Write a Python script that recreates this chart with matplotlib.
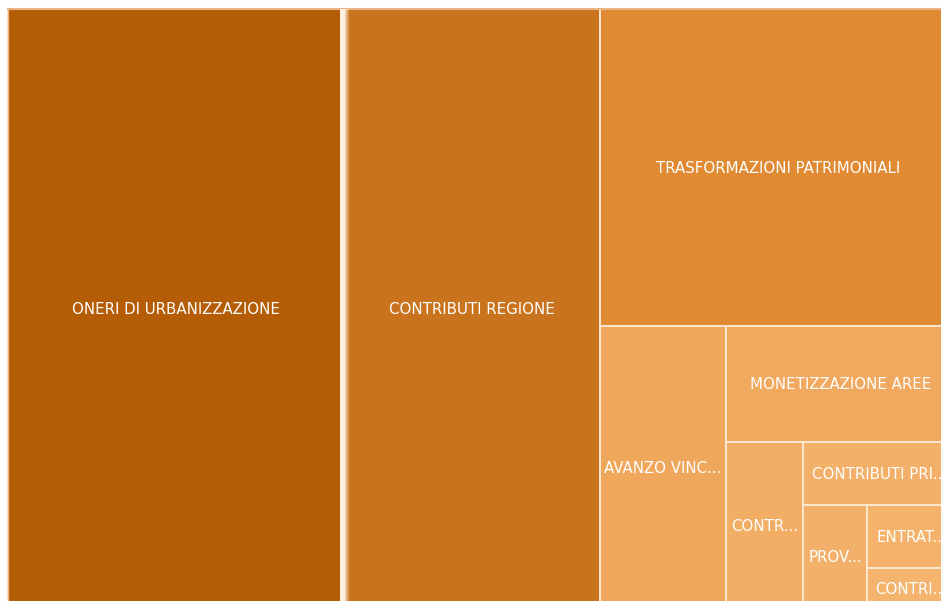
import numpy as np
import matplotlib
matplotlib.use("Agg")
import matplotlib.pyplot as plt
from matplotlib.patches import Rectangle
from matplotlib.colors import LinearSegmentedColormap

# cell values (proportional to area), in drawing order
labels = ["ONERI DI URBANIZZAZIONE", "CONTRIBUTI REGIONE", "TRASFORMAZIONI PATRIMONIALI",
          "AVANZO VINC...", "MONETIZZAZIONE AREE", "CONTR...", "CONTRIBUTI PRI...",
          "PROV...", "ENTRAT...", "CONTRI..."]
values = [2016.0, 1536.0, 1128.5, 356.6, 266.8, 128.6, 96.4, 66.6, 56.1, 36.5]
colors = ["#B45D06", "#C9731E", "#E08A33", "#EFA75B", "#F0A95E", "#F2AE65",
          "#F3B068", "#F3B06A", "#F4B26B", "#F4B46E"]

W, H = 941, 601
BOX = (8, 9, 948, 600)   # x0, y0, w, h of the treemap (runs past the crop)
EDGE = "#FCE8CF"


def slice_layout(vals, x, y, w, h):
    """Greedy slice: each item takes a strip along the longer side."""
    total = float(sum(vals))
    area = w * h
    rects = []
    for v in vals:
        a = v / total * area
        if w >= h:
            sw = a / h
            rects.append((x, y, sw, h))
            x += sw; w -= sw
        else:
            sh = a / w
            rects.append((x, y, w, sh))
            y += sh; h -= sh
        total -= v
        area = w * h
    return rects


rects = slice_layout(values, *BOX)

fig = plt.figure(figsize=(W / 100, H / 100), dpi=100)
ax = fig.add_axes([0, 0, 1, 1])
ax.axis("off")

for (x, y, w, h), lab, c in zip(rects, labels, colors):
    ax.add_patch(Rectangle((x, y), w, h, facecolor=c, edgecolor=EDGE, lw=1.4))
    ax.text(x + w / 2, y + h / 2 + 1, lab, color="white", fontsize=10.8,
            ha="center", va="center", clip_on=True)

# soft light stripe between the first two blocks
gx = rects[0][0] + rects[0][2]
grad = np.concatenate([np.ones(8), np.linspace(1, 0, 14)]).reshape(1, -1)
cmap = LinearSegmentedColormap.from_list("g", [(1, 1, 1, 0), "#FDF1E2"])
ax.imshow(grad, extent=(gx - 4, gx + 6, BOX[1] + BOX[3], BOX[1]),
          cmap=cmap, aspect="auto", zorder=3, interpolation="bilinear")
ax.set_xlim(0, W); ax.set_ylim(H, 0)

# pale outer edge at top/left
ax.plot([BOX[0], BOX[0] + BOX[2]], [BOX[1], BOX[1]], color="#E9B384", lw=1.5)
ax.plot([BOX[0], BOX[0]], [BOX[1], BOX[1] + BOX[3]], color="#E9B384", lw=1.0)

fig.savefig("out.png", dpi=100)
